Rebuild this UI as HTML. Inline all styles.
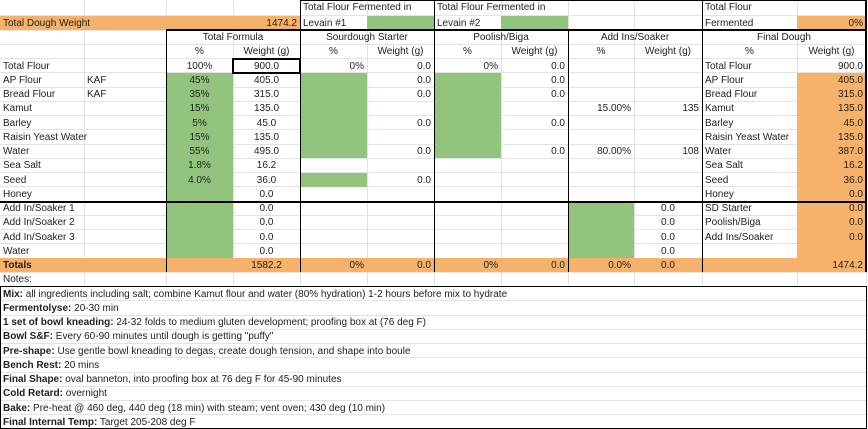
<!DOCTYPE html>
<html><head><meta charset="utf-8"><style>
body{margin:0;background:#fff;}
#s{position:relative;width:868px;height:429px;overflow:hidden;font-family:"Liberation Sans",Arial,sans-serif;font-size:10px;color:#222;}
#s div{position:absolute;box-sizing:border-box;}
.t{white-space:nowrap;padding:0 3px;overflow:visible;}
.l{text-align:left}.r{text-align:right}.m{text-align:center}
.g{background:#93c47d}.o{background:#f6b26b}
.hl{height:1px;left:0;width:866px;background:#e2e3e3}
.vl{width:1px;top:0;height:286px;background:#e2e3e3}
.k{background:#000}
.r0{top:0;height:15.75px;line-height:16px}
.r1{top:15.75px;height:14.25px;line-height:15px}
.r2{top:30px;height:14.25px;line-height:15px}
.r3{top:44.25px;height:14.25px;line-height:15px}
.r4{top:58.5px;height:14.25px;line-height:15px}
.r5{top:72.75px;height:14.25px;line-height:15px}
.r6{top:87px;height:14.25px;line-height:15px}
.r7{top:101.25px;height:14.25px;line-height:15px}
.r8{top:115.5px;height:14.25px;line-height:15px}
.r9{top:129.75px;height:14.25px;line-height:15px}
.r10{top:144px;height:14.25px;line-height:15px}
.r11{top:158.25px;height:14.25px;line-height:15px}
.r12{top:172.5px;height:14.25px;line-height:15px}
.r13{top:186.75px;height:14.25px;line-height:15px}
.r14{top:201px;height:14.25px;line-height:15px}
.r15{top:215.25px;height:14.25px;line-height:15px}
.r16{top:229.5px;height:14.25px;line-height:15px}
.r17{top:243.75px;height:14.25px;line-height:15px}
.r18{top:258px;height:14.25px;line-height:15px}
.r19{top:272.25px;height:14.25px;line-height:15px}
.r20{top:286.5px;height:14.25px;line-height:15px}
.r21{top:300.75px;height:14.25px;line-height:15px}
.r22{top:315px;height:14.25px;line-height:15px}
.r23{top:329.25px;height:14.25px;line-height:15px}
.r24{top:343.5px;height:14.25px;line-height:15px}
.r25{top:357.75px;height:14.25px;line-height:15px}
.r26{top:372px;height:14.25px;line-height:15px}
.r27{top:386.25px;height:14.25px;line-height:15px}
.r28{top:400.5px;height:14.25px;line-height:15px}
.r29{top:414.75px;height:14.25px;line-height:15px}
.cA{left:0;width:84px}.cB{left:84px;width:82px}.cC{left:166px;width:67px}.cD{left:233px;width:67px}
.cE{left:300px;width:67px}.cF{left:367px;width:67px}.cG{left:434px;width:67px}.cH{left:501px;width:67px}
.cI{left:568px;width:66px}.cJ{left:634px;width:68px}.cK{left:702px;width:95px}.cL{left:797px;width:69px}
.cAll{left:0;width:866px}
b{font-weight:bold}
</style></head><body><div id="s">
<!-- gridlines -->
<div class="hl" style="top:15px"></div><div class="hl" style="top:29.5px"></div><div class="hl" style="top:43.75px"></div><div class="hl" style="top:58px"></div><div class="hl" style="top:72.25px"></div><div class="hl" style="top:86.5px"></div><div class="hl" style="top:100.75px"></div><div class="hl" style="top:115px"></div><div class="hl" style="top:129.25px"></div><div class="hl" style="top:143.5px"></div><div class="hl" style="top:157.75px"></div><div class="hl" style="top:172px"></div><div class="hl" style="top:186.25px"></div><div class="hl" style="top:200.5px"></div><div class="hl" style="top:214.75px"></div><div class="hl" style="top:229px"></div><div class="hl" style="top:243.25px"></div><div class="hl" style="top:257.5px"></div><div class="hl" style="top:271.75px"></div><div class="hl" style="top:286px"></div><div class="hl" style="top:300.25px"></div><div class="hl" style="top:314.5px"></div><div class="hl" style="top:328.75px"></div><div class="hl" style="top:343px"></div><div class="hl" style="top:357.25px"></div><div class="hl" style="top:371.5px"></div><div class="hl" style="top:385.75px"></div><div class="hl" style="top:400px"></div><div class="hl" style="top:414.25px"></div>
<div class="vl" style="left:84px"></div><div class="vl" style="left:166px"></div><div class="vl" style="left:233px"></div><div class="vl" style="left:300px"></div><div class="vl" style="left:367px"></div><div class="vl" style="left:434px"></div><div class="vl" style="left:501px"></div><div class="vl" style="left:568px"></div><div class="vl" style="left:634px"></div><div class="vl" style="left:702px"></div><div class="vl" style="left:797px"></div><div class="vl" style="left:866px;height:429px"></div>
<!-- fills -->
<div class="o r1" style="left:0;width:300px"></div>
<div class="g r1 cF"></div><div class="g r1 cH"></div><div class="o r1 cL"></div>
<div class="g cC" style="top:72.75px;height:185.25px"></div>
<div class="g cE" style="top:72.75px;height:85.5px"></div>
<div class="g r12 cE"></div>
<div class="g cG" style="top:72.75px;height:85.5px"></div>
<div class="g cI" style="top:201px;height:57px"></div>
<div class="o cL" style="top:72.75px;height:185.25px"></div>
<div class="o r18 cAll"></div>
<!-- black borders -->
<div class="k" style="left:300px;top:0;width:566px;height:1px"></div>
<div class="k" style="left:166px;top:29px;width:700px;height:1.5px"></div>
<div class="k" style="left:299.5px;top:0;width:1.5px;height:272px"></div>
<div class="k" style="left:433.5px;top:0;width:1.5px;height:272px"></div>
<div class="k" style="left:567.5px;top:29px;width:1.5px;height:243px"></div>
<div class="k" style="left:701.5px;top:0;width:1.5px;height:272px"></div>
<div class="k" style="left:865px;top:0;width:1.5px;height:272px"></div>
<div class="k" style="left:165.5px;top:29px;width:1.5px;height:243px"></div>
<div class="k" style="left:0;top:200.5px;width:866px;height:2px"></div>
<div style="left:232px;top:57.5px;width:69px;height:16px;border:2px solid #000"></div>
<div style="left:0;top:285.5px;width:867px;height:143.5px;border:1.5px solid #000"></div>
<!-- row 0 -->
<div class="t l r0" style="left:300px">Total Flour Fermented in</div>
<div class="t l r0" style="left:434px">Total Flour Fermented in</div>
<div class="t l r0 cK">Total Flour</div>
<!-- row 1 -->
<div class="t l r1 cA">Total Dough Weight</div>
<div class="t r r1 cD">1474.2</div>
<div class="t l r1 cE">Levain #1</div>
<div class="t l r1 cG">Levain #2</div>
<div class="t l r1 cK">Fermented</div>
<div class="t r r1 cL">0%</div>
<!-- row 2 -->
<div class="t m r2" style="left:166px;width:134px">Total Formula</div>
<div class="t m r2" style="left:300px;width:134px">Sourdough Starter</div>
<div class="t m r2" style="left:434px;width:134px">Poolish/Biga</div>
<div class="t m r2" style="left:568px;width:134px">Add Ins/Soaker</div>
<div class="t m r2" style="left:702px;width:164px">Final Dough</div>
<!-- row 3 -->
<div class="t m r3 cC">%</div><div class="t m r3 cD">Weight (g)</div>
<div class="t m r3 cE">%</div><div class="t m r3 cF">Weight (g)</div>
<div class="t m r3 cG">%</div><div class="t m r3 cH">Weight (g)</div>
<div class="t m r3 cI">%</div><div class="t m r3 cJ">Weight (g)</div>
<div class="t m r3 cK">%</div><div class="t m r3 cL">Weight (g)</div>
<!-- row 4 -->
<div class="t l r4 cA">Total Flour</div><div class="t m r4 cC">100%</div><div class="t m r4 cD">900.0</div>
<div class="t r r4 cE">0%</div><div class="t r r4 cF">0.0</div><div class="t r r4 cG">0%</div><div class="t r r4 cH">0.0</div>
<div class="t l r4 cK">Total Flour</div><div class="t r r4 cL">900.0</div>
<!-- row 5 -->
<div class="t l r5 cA">AP Flour</div><div class="t l r5 cB">KAF</div><div class="t m r5 cC">45%</div><div class="t m r5 cD">405.0</div>
<div class="t r r5 cF">0.0</div><div class="t r r5 cH">0.0</div><div class="t l r5 cK">AP Flour</div><div class="t r r5 cL">405.0</div>
<!-- row 6 -->
<div class="t l r6 cA">Bread Flour</div><div class="t l r6 cB">KAF</div><div class="t m r6 cC">35%</div><div class="t m r6 cD">315.0</div>
<div class="t r r6 cF">0.0</div><div class="t r r6 cH">0.0</div><div class="t l r6 cK">Bread Flour</div><div class="t r r6 cL">315.0</div>
<!-- row 7 -->
<div class="t l r7 cA">Kamut</div><div class="t m r7 cC">15%</div><div class="t m r7 cD">135.0</div>
<div class="t r r7 cI">15.00%</div><div class="t r r7 cJ">135</div><div class="t l r7 cK">Kamut</div><div class="t r r7 cL">135.0</div>
<!-- row 8 -->
<div class="t l r8 cA">Barley</div><div class="t m r8 cC">5%</div><div class="t m r8 cD">45.0</div>
<div class="t r r8 cF">0.0</div><div class="t r r8 cH">0.0</div><div class="t l r8 cK">Barley</div><div class="t r r8 cL">45.0</div>
<!-- row 9 -->
<div class="t l r9 cA">Raisin Yeast Water</div><div class="t m r9 cC">15%</div><div class="t m r9 cD">135.0</div>
<div class="t l r9 cK">Raisin Yeast Water</div><div class="t r r9 cL">135.0</div>
<!-- row 10 -->
<div class="t l r10 cA">Water</div><div class="t m r10 cC">55%</div><div class="t m r10 cD">495.0</div>
<div class="t r r10 cF">0.0</div><div class="t r r10 cH">0.0</div>
<div class="t r r10 cI">80.00%</div><div class="t r r10 cJ">108</div><div class="t l r10 cK">Water</div><div class="t r r10 cL">387.0</div>
<!-- row 11 -->
<div class="t l r11 cA">Sea Salt</div><div class="t m r11 cC">1.8%</div><div class="t m r11 cD">16.2</div>
<div class="t l r11 cK">Sea Salt</div><div class="t r r11 cL">16.2</div>
<!-- row 12 -->
<div class="t l r12 cA">Seed</div><div class="t m r12 cC">4.0%</div><div class="t m r12 cD">36.0</div>
<div class="t r r12 cF">0.0</div><div class="t l r12 cK">Seed</div><div class="t r r12 cL">36.0</div>
<!-- row 13 -->
<div class="t l r13 cA">Honey</div><div class="t m r13 cD">0.0</div>
<div class="t l r13 cK">Honey</div><div class="t r r13 cL">0.0</div>
<!-- rows 14-17 -->
<div class="t l r14 cA">Add In/Soaker 1</div><div class="t m r14 cD">0.0</div><div class="t m r14 cJ">0.0</div><div class="t l r14 cK">SD Starter</div><div class="t r r14 cL">0.0</div>
<div class="t l r15 cA">Add In/Soaker 2</div><div class="t m r15 cD">0.0</div><div class="t m r15 cJ">0.0</div><div class="t l r15 cK">Poolish/Biga</div><div class="t r r15 cL">0.0</div>
<div class="t l r16 cA">Add In/Soaker 3</div><div class="t m r16 cD">0.0</div><div class="t m r16 cJ">0.0</div><div class="t l r16 cK">Add Ins/Soaker</div><div class="t r r16 cL">0.0</div>
<div class="t l r17 cA">Water</div><div class="t m r17 cD">0.0</div><div class="t m r17 cJ">0.0</div>
<!-- row 18 totals -->
<div class="t l r18 cA"><b>Totals</b></div><div class="t m r18 cD">1582.2</div>
<div class="t r r18 cE">0%</div><div class="t r r18 cF">0.0</div><div class="t r r18 cG">0%</div><div class="t r r18 cH">0.0</div>
<div class="t r r18 cI">0.0%</div><div class="t m r18 cJ">0.0</div><div class="t r r18 cL">1474.2</div>
<!-- notes -->
<div class="t l r19 cA">Notes:</div>
<div class="t l r20 cAll"><b>Mix:</b> all ingredients including salt; combine Kamut flour and water (80% hydration) 1-2 hours before mix to hydrate</div>
<div class="t l r21 cAll"><b>Fermentolyse:</b> 20-30 min</div>
<div class="t l r22 cAll"><b>1 set of bowl kneading:</b> 24-32 folds to medium gluten development; proofing box at (76 deg F)</div>
<div class="t l r23 cAll"><b>Bowl S&amp;F:</b> Every 60-90 minutes until dough is getting "puffy"</div>
<div class="t l r24 cAll"><b>Pre-shape:</b> Use gentle bowl kneading to degas, create dough tension, and shape into boule</div>
<div class="t l r25 cAll"><b>Bench Rest:</b> 20 mins</div>
<div class="t l r26 cAll"><b>Final Shape:</b> oval banneton, into proofing box at 76 deg F for 45-90 minutes</div>
<div class="t l r27 cAll"><b>Cold Retard:</b> overnight</div>
<div class="t l r28 cAll"><b>Bake:</b> Pre-heat @ 460 deg, 440 deg (18 min) with steam; vent oven; 430 deg (10 min)</div>
<div class="t l r29 cAll"><b>Final Internal Temp:</b> Target 205-208 deg F</div>
</div></body></html>
